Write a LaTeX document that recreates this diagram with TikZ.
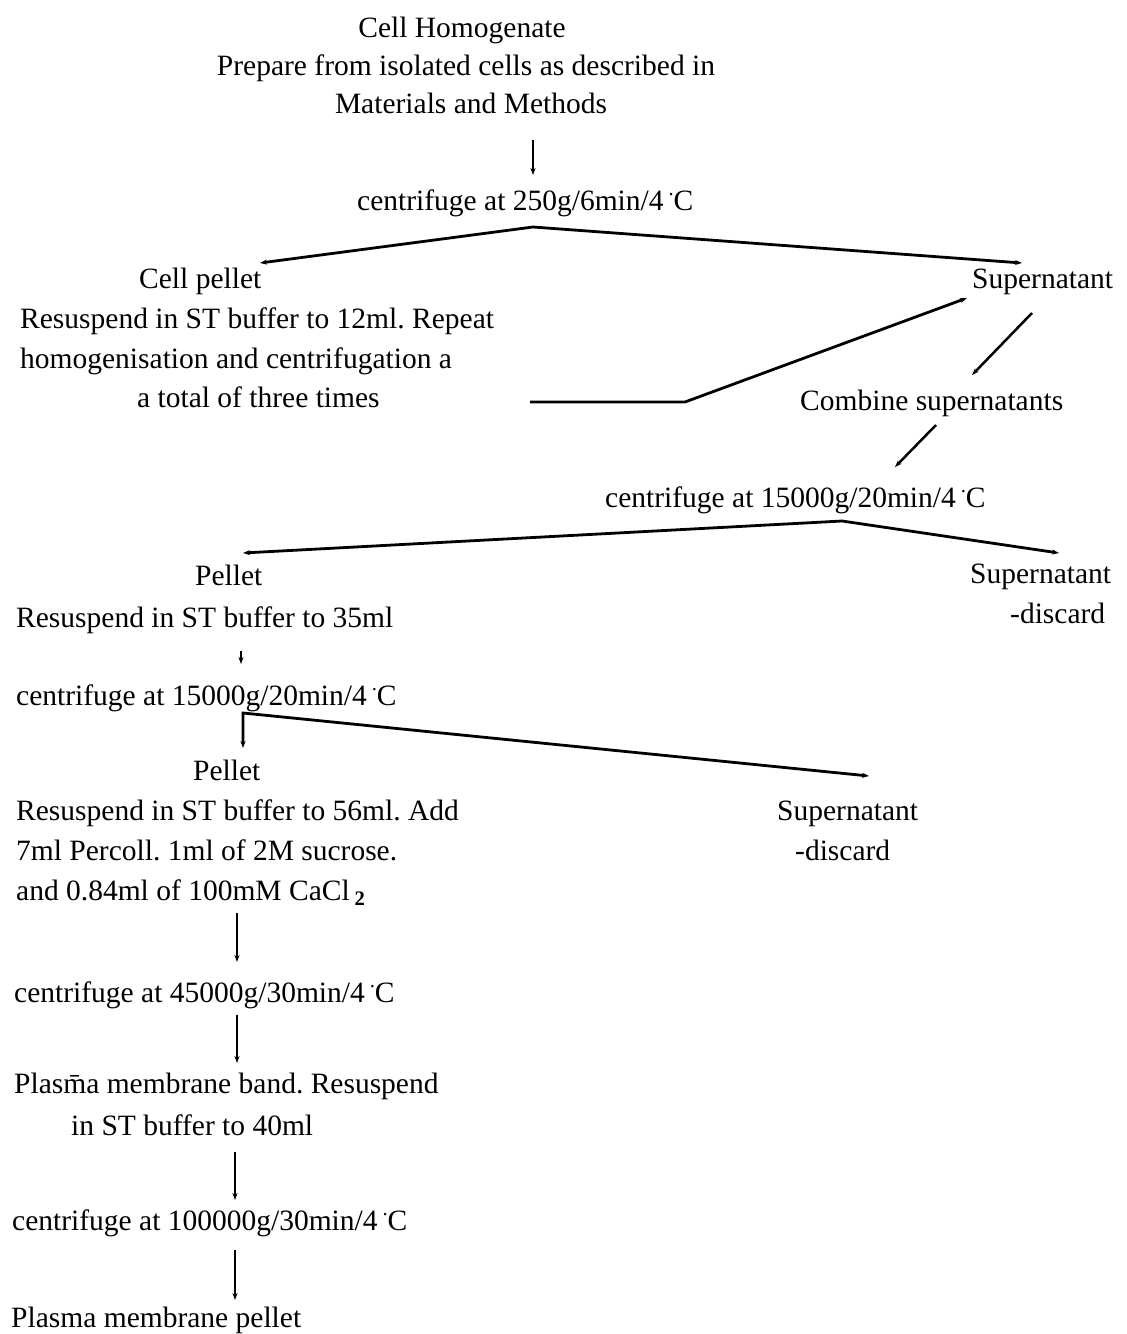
\documentclass[tikz,border=0pt]{standalone}
\usepackage{fontspec}
\usepackage{graphicx}
\setmainfont{Liberation Serif}
\usetikzlibrary{arrows.meta}
\newcommand{\degC}{\,\raisebox{0.5em}{\scalebox{0.7}{.}}C}
\frenchspacing

\begin{document}
\begin{tikzpicture}[x=1pt,y=-1pt,
    font=\fontsize{29.5}{40}\selectfont,
    txt/.style={inner sep=0pt,anchor=base west},
    ctr/.style={inner sep=0pt,anchor=base},
    arr/.style={-{Stealth[length=7pt,width=5pt]},line width=2.5pt},
    twoarr/.style={{Stealth[length=7pt,width=5pt]}-{Stealth[length=7pt,width=5pt]},line width=2.8pt}]
\useasboundingbox (0,0) rectangle (1127,1334);

% homogenate
\node[ctr] (hom1) at (462,37) {Cell Homogenate};
\node[ctr] (hom2) at (466,75) {Prepare from isolated cells as described in};
\node[ctr] (hom3) at (471,113) {Materials and Methods};
\node[txt] (cen1) at (357,210) {centrifuge at 250g/6min/4\degC};

% first spin
\node[txt] (cpel1) at (139,288) {Cell pellet};
\node[txt] (cpel2) at (20,328) {Resuspend in ST buffer to 12ml. Repeat};
\node[txt] (cpel3) at (20,368) {homogenisation and centrifugation a};
\node[txt] (cpel4) at (137,407) {a total of three times};
\node[txt] (sup1) at (972,288) {Supernatant};
\node[txt] (comb) at (800,410) {Combine supernatants};
\node[txt] (cen2) at (605,507) {centrifuge at 15000g/20min/4\degC};

% second spin
\node[txt] (pel1) at (195,585) {Pellet};
\node[txt] (pel1b) at (16,627) {Resuspend in ST buffer to 35ml};
\node[txt] (sup2) at (970,583) {Supernatant};
\node[txt] (dis2) at (1010,623) {-discard};
\node[txt] (cen3) at (16,705) {centrifuge at 15000g/20min/4\degC};

% third spin
\node[txt] (pel2) at (193,780) {Pellet};
\node[txt] (pel2b) at (16,820) {Resuspend in ST buffer to 56ml. Add};
\node[txt] (pel2c) at (16,860) {7ml Percoll. 1ml of 2M sucrose.};
\node[txt] (pel2d) at (16,900) {and 0.84ml of 100mM CaCl\,\textsubscript{\textbf{2}}};
\node[txt] (sup3) at (777,820) {Supernatant};
\node[txt] (dis3) at (795,860) {-discard};

% gradient and final spin
\node[txt] (cen4) at (14,1002) {centrifuge at 45000g/30min/4\degC};
\node[txt] (band1) at (14,1093) {Plas\={m}a membrane band. Resuspend};
\node[txt] (band2) at (71,1135) {in ST buffer to 40ml};
\node[txt] (cen5) at (12,1230) {centrifuge at 100000g/30min/4\degC};
\node[txt] (final) at (11,1327) {Plasma membrane pellet};

% connector points
\coordinate (a1s) at (533,140);  \coordinate (a1e) at (533,175);
\coordinate (ap1) at (533,227);
\coordinate (lt1) at (260,263);  \coordinate (rt1) at (1022,263);
\coordinate (rs) at (530,402);   \coordinate (rb) at (685,402);
\coordinate (rt) at (967,298);
\coordinate (a2s) at (1032,313); \coordinate (a2e) at (972,375);
\coordinate (a3s) at (936,425);  \coordinate (a3e) at (895,467);
\coordinate (ap2) at (842,521);
\coordinate (lt2) at (243,553);  \coordinate (rt2) at (1059,553);
\coordinate (a4s) at (241,651);  \coordinate (a4e) at (241,664);
\coordinate (ap3) at (243,713);
\coordinate (lt3) at (243,748);  \coordinate (rt3) at (869,776);
\coordinate (a5s) at (237,913);  \coordinate (a5e) at (237,962);
\coordinate (a6s) at (237,1015); \coordinate (a6e) at (237,1063);
\coordinate (a7s) at (235,1152); \coordinate (a7e) at (235,1200);
\coordinate (a8s) at (235,1250); \coordinate (a8e) at (235,1300);

\draw[arr] (a1s) -- (a1e);
\draw[twoarr] (lt1) -- (ap1) -- (rt1);
\draw[arr,line width=2.8pt] (rs) -- (rb) -- (rt);
\draw[arr] (a2s) -- (a2e);
\draw[arr] (a3s) -- (a3e);
\draw[twoarr] (lt2) -- (ap2) -- (rt2);
\draw[arr] (a4s) -- (a4e);
\draw[twoarr] (lt3) -- (ap3) -- (rt3);
\draw[arr] (a5s) -- (a5e);
\draw[arr] (a6s) -- (a6e);
\draw[arr] (a7s) -- (a7e);
\draw[arr] (a8s) -- (a8e);
\end{tikzpicture}
\end{document}
